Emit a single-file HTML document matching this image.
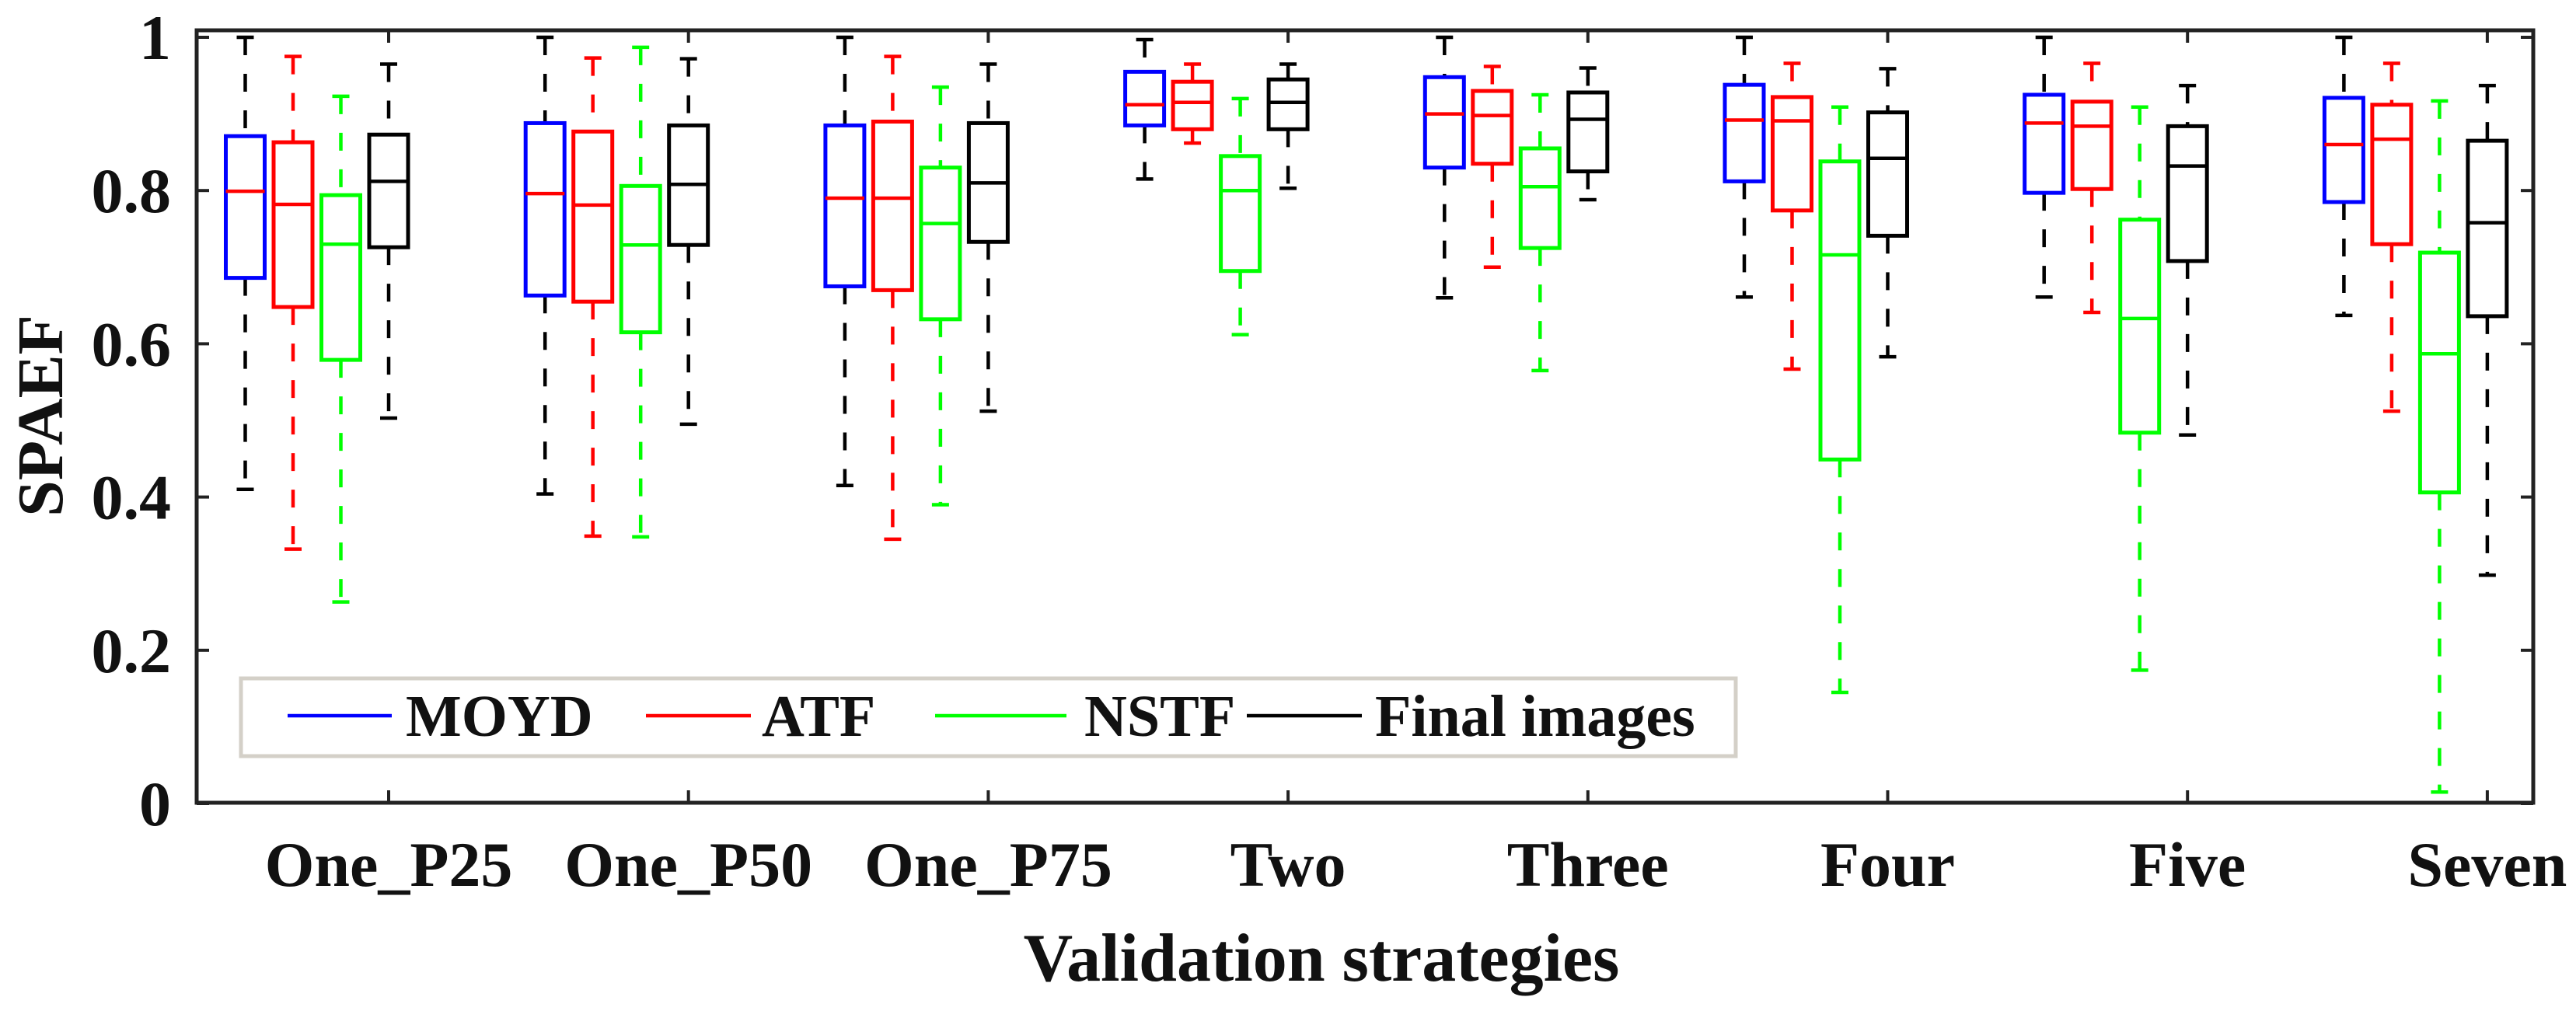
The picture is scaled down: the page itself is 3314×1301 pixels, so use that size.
<!DOCTYPE html>
<html><head><meta charset="utf-8"><style>
html,body{margin:0;padding:0;background:#fff;}
svg{display:block;font-family:"Liberation Serif","Times New Roman",serif;font-weight:bold;}
</style></head><body>
<svg id="chart" width="3314" height="1301" viewBox="0 0 3314 1301">
<rect x="0" y="0" width="3314" height="1301" fill="#fff"/>
<g id="marks"></g>
<g id="axes"></g>
<g id="legend"></g>
</svg>
<script>
const categories = ["One_P25","One_P50","One_P75","Two","Three","Four","Five","Seven"];
const seriesNames = ["MOYD","ATF","NSTF","Final images"];
// each entry per category: [lowerWhisker, q1, median, q3, upperWhisker]
const moyd = [[0.41,0.686,0.799,0.871,1.0],[0.404,0.663,0.796,0.888,1.0],[0.415,0.675,0.79,0.885,1.0],[0.815,0.885,0.912,0.955,0.997],[0.66,0.83,0.9,0.948,1.0],[0.661,0.812,0.892,0.938,1.0],[0.661,0.797,0.888,0.925,1.0],[0.637,0.785,0.86,0.921,1.0]];
const atf = [[0.332,0.648,0.782,0.863,0.975],[0.349,0.655,0.781,0.877,0.973],[0.345,0.67,0.79,0.89,0.975],[0.862,0.88,0.915,0.942,0.965],[0.70,0.835,0.898,0.93,0.962],[0.567,0.774,0.891,0.922,0.966],[0.641,0.802,0.884,0.916,0.966],[0.512,0.73,0.867,0.912,0.966]];
const nstf = [[0.263,0.579,0.73,0.794,0.923],[0.348,0.615,0.729,0.806,0.987],[0.39,0.632,0.757,0.83,0.935],[0.612,0.695,0.8,0.845,0.92],[0.565,0.725,0.805,0.855,0.925],[0.145,0.449,0.716,0.838,0.909],[0.174,0.484,0.633,0.762,0.909],[0.015,0.406,0.587,0.719,0.917]];
const finalImg = [[0.503,0.726,0.812,0.873,0.965],[0.495,0.729,0.808,0.885,0.972],[0.512,0.733,0.81,0.888,0.965],[0.803,0.88,0.915,0.945,0.965],[0.788,0.825,0.893,0.928,0.96],[0.583,0.741,0.842,0.902,0.959],[0.481,0.708,0.832,0.884,0.937],[0.298,0.636,0.758,0.865,0.937]];
const yTicks = [0,0.2,0.4,0.6,0.8,1];
const yTickLabels = ["0","0.2","0.4","0.6","0.8","1"];

const NS="http://www.w3.org/2000/svg";
const L=253,R=3259,T=39,B=1033;
function yScale(v){return 1034-986*v;}
function xScale(i){return 500+385.7*i;}
const offsets=[-3,-2,-1,0], step=61.5, boxW=50, capW=22;
const boxColors=["#0000ff","#ff0000","#00ff00","#000000"];
const medColors=["#ff0000","#ff0000","#00ff00","#000000"];
const whColors=["#000000","#ff0000","#00ff00","#000000"];
const all=[moyd,atf,nstf,finalImg];
function el(tag,attrs,parent){const e=document.createElementNS(NS,tag);for(const k in attrs)e.setAttribute(k,attrs[k]);parent.appendChild(e);return e;}
const marks=document.getElementById('marks');
all.forEach((ser,s)=>{
  const g=el('g',{},marks);
  
  
  ser.forEach((d,i)=>{
    const cx=xScale(i)+offsets[s]*step;
    const [lo,q1,md,q3,hi]=d;
    const bg=el('g',{},g);
    
    
    el('line',{x1:cx,x2:cx,y1:yScale(hi),y2:yScale(q3),stroke:whColors[s],'stroke-width':4.5,'stroke-dasharray':'23 24'},bg);
    el('line',{x1:cx,x2:cx,y1:yScale(q1),y2:yScale(lo),stroke:whColors[s],'stroke-width':4.5,'stroke-dasharray':'23 24'},bg);
    el('line',{x1:cx-capW/2,x2:cx+capW/2,y1:yScale(hi),y2:yScale(hi),stroke:whColors[s],'stroke-width':4.5},bg);
    el('line',{x1:cx-capW/2,x2:cx+capW/2,y1:yScale(lo),y2:yScale(lo),stroke:whColors[s],'stroke-width':4.5},bg);
    el('rect',{x:cx-boxW/2,y:yScale(q3),width:boxW,height:yScale(q1)-yScale(q3),fill:'none',stroke:boxColors[s],'stroke-width':5},bg);
    el('line',{x1:cx-boxW/2,x2:cx+boxW/2,y1:yScale(md),y2:yScale(md),stroke:medColors[s],'stroke-width':4.5},bg);
  });
});
const axes=document.getElementById('axes');
const frame=el('rect',{x:L,y:T,width:R-L,height:B-T,fill:'none',stroke:'#222','stroke-width':5},axes);


yTicks.forEach((v,k)=>{
  const y=yScale(v);
  el('line',{x1:L,x2:L+16,y1:y,y2:y,stroke:'#222','stroke-width':4},axes);
  el('line',{x1:R,x2:R-16,y1:y,y2:y,stroke:'#222','stroke-width':4},axes);
  const t=el('text',{x:220,y:y+28,'text-anchor':'end','font-size':82,fill:'#111'},axes);
  t.textContent=yTickLabels[k];
  
  
});
categories.forEach((c,i)=>{
  const x=xScale(i);
  el('line',{x1:x,x2:x,y1:B,y2:B-16,stroke:'#222','stroke-width':4},axes);
  el('line',{x1:x,x2:x,y1:T,y2:T+16,stroke:'#222','stroke-width':4},axes);
  const t=el('text',{x:x,y:1140,'text-anchor':'middle','font-size':82,fill:'#111'},axes);
  t.textContent=c;
  
  
});
const yt=el('text',{x:0,y:0,'text-anchor':'middle','font-size':84,fill:'#111',transform:'translate(80,535) rotate(-90)'},axes);
yt.textContent='SPAEF';


const xt=el('text',{x:1700,y:1262,'text-anchor':'middle','font-size':88,fill:'#111'},axes);
xt.textContent='Validation strategies';


const leg=document.getElementById('legend');
const lb=el('rect',{x:310,y:873,width:1923,height:100,fill:'#fff',stroke:'#d4d0c8','stroke-width':5},leg);


const legX=[[370,504,522],[831,966,980],[1203,1372,1395],[1604,1752,1769]];
seriesNames.forEach((n,s)=>{
  const g=el('g',{},leg);
  
  
  el('line',{x1:legX[s][0],x2:legX[s][1],y1:921,y2:921,stroke:boxColors[s],'stroke-width':4.5},g);
  const t=el('text',{x:legX[s][2],y:947,'font-size':76,fill:'#111'},g);
  t.textContent=n;
});
</script>
</body></html>
